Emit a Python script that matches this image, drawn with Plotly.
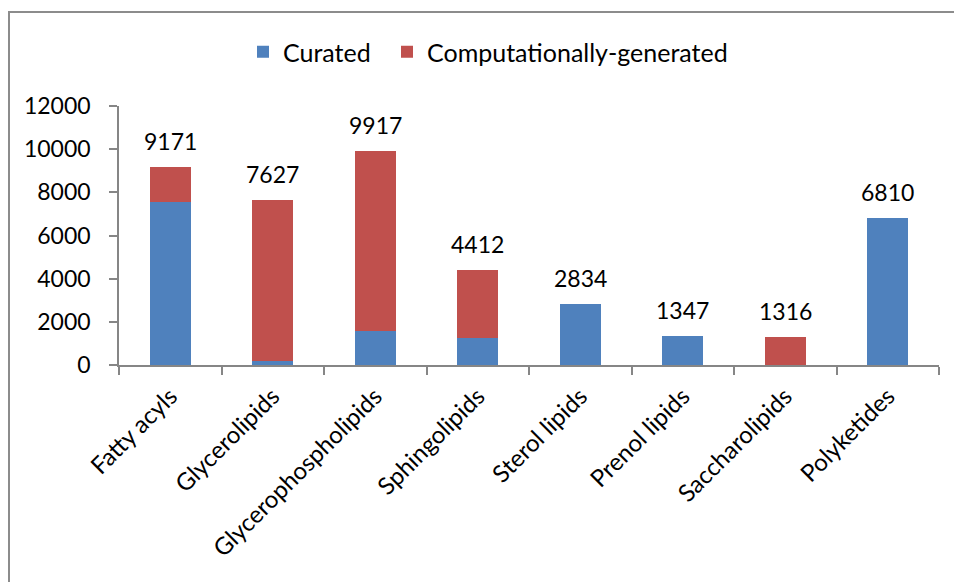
import plotly.graph_objects as go

# Lipid classes and their structure counts
categories = ["Fatty acyls", "Glycerolipids", "Glycerophospholipids", "Sphingolipids",
              "Sterol lipids", "Prenol lipids", "Saccharolipids", "Polyketides"]
curated = [7540, 200, 1575, 1235, 2834, 1347, 0, 6810]
computed = [1631, 7427, 8342, 3177, 0, 0, 1316, 0]
y_ticks = [0, 2000, 4000, 6000, 8000, 10000, 12000]

totals = [c + g for c, g in zip(curated, computed)]

BLUE = "#4F81BD"
RED = "#C0504D"
AXIS = "#868686"
FAMILY = "Lato, Carlito, 'Open Sans', sans-serif"
FONT = dict(family=FAMILY, size=23, color="black")
CAT_FONT = dict(family=FAMILY, size=24, color="black")
LEG_FONT = dict(family=FAMILY, size=25, color="black")

fig = go.Figure()
fig.add_trace(go.Bar(x=categories, y=curated, name="Curated", legend="legend",
                     marker=dict(color=BLUE, line=dict(width=0))))
fig.add_trace(go.Bar(x=categories, y=computed, name="Computationally-generated",
                     legend="legend2", marker=dict(color=RED, line=dict(width=0))))

# total count above each stacked column
for cat, tot in zip(categories, totals):
    fig.add_annotation(x=cat, y=tot, text=str(tot), showarrow=False,
                       yanchor="bottom", yshift=10, font=FONT)

W, H = 954, 582
ml, mr, mt, mb = 119, 15, 106, 217
pw, ph = W - ml - mr, H - mt - mb

def px_to_paper_x(px):
    return (px - ml) / pw

def px_to_paper_y(py):
    return (H - mb - py) / ph

# chart-area frame
fig.add_shape(type="rect", xref="paper", yref="paper",
              x0=px_to_paper_x(9), x1=px_to_paper_x(970),
              y0=px_to_paper_y(600), y1=px_to_paper_y(12),
              line=dict(color="#8C8C8C", width=2), fillcolor="rgba(0,0,0,0)", layer="below")

legend_common = dict(orientation="h", xanchor="left", y=px_to_paper_y(52),
                     yanchor="middle", font=LEG_FONT, bgcolor="rgba(0,0,0,0)",
                     itemwidth=30)

fig.update_layout(
    width=W, height=H,
    margin=dict(l=ml, r=mr, t=mt, b=mb, pad=0),
    barmode="stack", bargap=0.6,
    paper_bgcolor="white", plot_bgcolor="white",
    font=FONT,
    showlegend=True,
    legend=dict(x=px_to_paper_x(243), **legend_common),
    legend2=dict(x=px_to_paper_x(387), **legend_common),
    xaxis=dict(showline=True, linecolor=AXIS, linewidth=1.5,
               ticks="outside", tickson="boundaries", ticklen=8, tickcolor=AXIS,
               tickwidth=1.5, tickangle=-45, tickfont=CAT_FONT, showgrid=False,
               zeroline=False, ticklabelstandoff=6),
    yaxis=dict(range=[0, 12000], tickvals=y_ticks, ticktext=[str(v) for v in y_ticks],
               showline=True, linecolor=AXIS,
               linewidth=1.5, ticks="outside", ticklen=8, tickcolor=AXIS, tickwidth=1.5,
               tickfont=FONT, showgrid=False, zeroline=False, ticklabelstandoff=14),
)

fig.write_html("out.html", config={"displayModeBar": False})
